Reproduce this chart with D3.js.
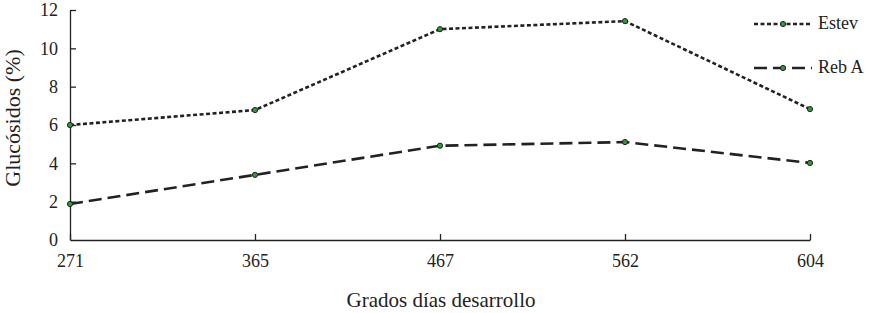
<!DOCTYPE html>
<html><head><meta charset="utf-8">
<script src="https://cdn.jsdelivr.net/npm/d3@7"></script>
<style>body{margin:0;background:#fff}svg{display:block}svg text{font-family:"Liberation Serif",serif !important;fill:#222}</style>
</head><body>
<svg id="c" width="879" height="313"></svg>
<script>
const categories = ["271","365","467","562","604"];
const estev = [6.0, 6.78, 11.0, 11.42, 6.83];
const rebA = [1.88, 3.4, 4.92, 5.11, 4.02];
const yTicks = [0,2,4,6,8,10,12];
const seriesNames = ["Estev","Reb A"];

const svg = d3.select("#c");
const x = d3.scalePoint().domain(categories).range([70,810]);
const y = d3.scaleLinear().domain([0,12]).range([240,10]);

const gx = svg.append("g").attr("transform","translate(0,240)")
  .call(d3.axisBottom(x).tickSizeInner(-6).tickSizeOuter(0).tickPadding(14));
const gy = svg.append("g").attr("transform","translate(70,0)")
  .call(d3.axisLeft(y).tickValues(yTicks).tickSizeInner(-6).tickSizeOuter(0).tickPadding(12));
[gx,gy].forEach(g=>{
  g.attr("font-family",null).attr("font-size",null);
  g.selectAll("path,line").attr("stroke","#222").attr("stroke-width",1.3);
  g.selectAll("text").style("font-size","18px");
});
gy.selectAll(".tick line").filter(d=>d===0).remove();

const line = d3.line().x((d,i)=>x(categories[i])).y(d=>y(d));
const styles = [{dash:"4,2.5", w:2.6},{dash:"13,6", w:2.6}];
[estev, rebA].forEach((s,k)=>{
  svg.append("path").attr("d",line(s)).attr("fill","none").attr("stroke","#222")
    .attr("stroke-width",styles[k].w).attr("stroke-dasharray",styles[k].dash);
  svg.selectAll(null).data(s).enter().append("circle")
    .attr("cx",(d,i)=>x(categories[i])).attr("cy",d=>y(d)).attr("r",2.6)
    .attr("fill","#2e9a3e").attr("stroke","#222").attr("stroke-width",1);
});

// legend
seriesNames.forEach((n,k)=>{
  const ly = k===0 ? 24 : 68;
  svg.append("line").attr("x1",754).attr("x2",812).attr("y1",ly).attr("y2",ly)
    .attr("stroke","#222").attr("stroke-width",2.6).attr("stroke-dasharray",styles[k].dash);
  svg.append("circle").attr("cx",783).attr("cy",ly).attr("r",2.6)
    .attr("fill","#2e9a3e").attr("stroke","#222").attr("stroke-width",1);
  svg.append("text").attr("x",818).attr("y",ly+5).text(n).style("font-size","18px");
});

svg.append("text").attr("transform","translate(20,118) rotate(-90)").attr("text-anchor","middle")
  .style("font-size","22px").text("Glucósidos (%)");
svg.append("text").attr("x",441).attr("y",307).attr("text-anchor","middle")
  .style("font-size","21px").text("Grados días desarrollo");
</script>
</body></html>
